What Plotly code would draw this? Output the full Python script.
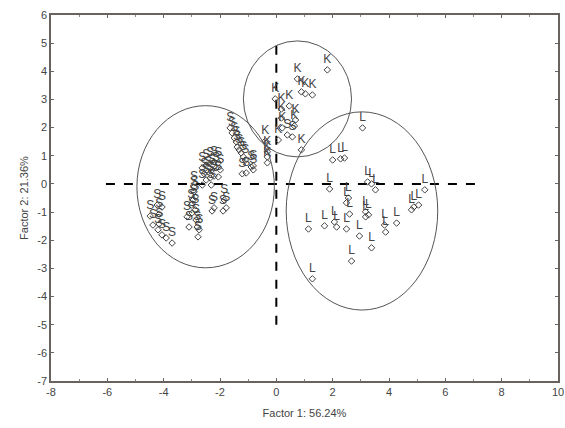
import plotly.graph_objects as go

# ---- data (Factor 1, Factor 2 scores) ----
s_x = [-4.48, -4.23, -4.06, -4.16, -4.20, -4.06, -4.16, -3.91, -3.70, -4.38,
       -2.92, -2.92, -2.88, -3.17, -2.99, -2.85, -2.81, -2.74, -3.10, -2.78, -3.02, -2.95, -2.88,
       -2.63, -2.49, -2.35, -2.21, -2.06, -2.56, -2.42, -2.28, -2.14, -1.99, -2.49, -2.35, -2.21, -2.06, -2.63, -2.31,
       -2.28, -1.89, -1.85, -1.78, -2.21,
       -1.64, -1.57, -1.49, -1.42, -1.39, -1.32, -1.25, -1.17, -1.10, -1.21, -1.07, -0.89, -0.82, -0.82,
       0.39, 0.57]
s_y = [-1.14, -0.75, -0.82, -1.07, -1.63, -1.81, -1.42, -1.92, -2.10, -1.46,
       -0.11, -0.28, -0.46, -1.17, -1.03, -1.28, -1.53, -1.63, -1.53, -1.88, -0.75, -0.57, -0.92,
       0.57, 0.67, 0.75, 0.78, 0.75, 0.36, 0.43, 0.50, 0.57, 0.50, 0.14, 0.21, 0.28, 0.25, -0.04, -0.04,
       -0.96, -0.96, -0.57, -0.85, -0.85,
       1.99, 1.81, 1.63, 1.49, 1.31, 1.21, 1.10, 0.96, 0.85, 0.36, 0.39, 0.60, 0.64, 0.50,
       1.74, 1.67]

k_x = [1.81, 0.75, 0.89, 1.03, 1.28, -0.04, 0.46, 0.18, 0.68, 0.64, 0.18, 0.07, -0.39, 0.89, 0.21,
       -0.32, -0.32, -0.32]
k_y = [4.05, 3.73, 3.27, 3.20, 3.16, 3.02, 2.77, 2.66, 2.27, 2.06, 2.34, 1.56, 1.53, 1.21, 1.99,
       1.14, 0.96, 0.75]

l_x = [3.06, 2.00, 2.28, 2.42, 1.89, 3.24, 3.38, 3.52, 2.56, 2.49, 2.60, 3.17, 3.27, 3.17,
       1.14, 1.71, 2.06, 2.14, 2.49, 2.95, 3.38, 3.84, 3.88, 4.27, 4.80, 4.88, 5.05, 5.27, 2.67, 1.28]
l_y = [1.99, 0.85, 0.89, 0.92, -0.18, 0.07, 0.00, -0.21, -0.50, -0.67, -1.07, -0.99, -1.10, -1.17,
       -1.60, -1.49, -1.35, -1.53, -1.60, -1.85, -2.27, -1.46, -1.71, -1.39, -0.92, -0.82, -0.75, -0.21, -2.74, -3.37]

# group ellipses
ell_cx = [-2.51, 0.75, 3.04]
ell_cy = [-0.10, 3.02, -0.96]
ell_rx = [2.44, 1.92, 2.69]
ell_ry = [2.88, 2.06, 3.52]

# dashed reference axes
h_line_x = [-6.05, 7.3]
h_line_y = [0, 0]
v_line_x = [0, 0]
v_line_y = [-5.0, 5.0]

x_ticks = [-8, -6, -4, -2, 0, 2, 4, 6, 8, 10]
y_ticks = list(range(-7, 7))

TXT = "rgb(68,68,68)"
fig = go.Figure()

fig.add_trace(go.Scatter(x=h_line_x, y=h_line_y, mode="lines",
                         line=dict(color="black", width=2, dash="dash"), hoverinfo="skip"))
fig.add_trace(go.Scatter(x=v_line_x, y=v_line_y, mode="lines",
                         line=dict(color="black", width=2, dash="dash"), hoverinfo="skip"))

for xs, ys, lab in [(s_x, s_y, "S"), (k_x, k_y, "K"), (l_x, l_y, "L")]:
    fig.add_trace(go.Scatter(
        x=xs, y=ys, mode="markers+text", text=[lab] * len(xs),
        textposition="top center",
        textfont=dict(family="Liberation Sans, Arial", size=12, color=TXT),
        marker=dict(symbol="diamond-open", size=5, color=TXT, line=dict(width=1, color=TXT)),
    ))

for cx, cy, rx, ry in zip(ell_cx, ell_cy, ell_rx, ell_ry):
    fig.add_shape(type="circle", xref="x", yref="y",
                  x0=cx - rx, x1=cx + rx, y0=cy - ry, y1=cy + ry,
                  line=dict(color="#555", width=1))

axis_font = dict(family="Liberation Sans, Arial", size=11, color="#444")
fig.update_xaxes(range=[-8, 10], tickvals=x_ticks, ticktext=[str(v) for v in x_ticks],
                 showgrid=False, zeroline=False,
                 showline=True, linecolor="#6a625c", linewidth=1.5, mirror="ticks",
                 ticks="inside", ticklen=3, tickcolor="#666",
                 minor=dict(dtick=1, ticks="inside", ticklen=2, tickcolor="#888"),
                 tickfont=axis_font,
                 title=dict(text="Factor 1: 56.24%", font=axis_font, standoff=12))
fig.update_yaxes(range=[-7, 6], tickvals=y_ticks, ticktext=[str(v) for v in y_ticks],
                 showgrid=False, zeroline=False,
                 showline=True, linecolor="#6a625c", linewidth=1.5, mirror="ticks",
                 ticks="inside", ticklen=3, tickcolor="#666",
                 tickfont=axis_font,
                 title=dict(text="Factor 2: 21.36%", font=axis_font, standoff=6))

fig.update_layout(template="none", width=565, height=428, showlegend=False,
                  paper_bgcolor="white", plot_bgcolor="white",
                  margin=dict(l=51, r=7, t=15, b=47))

fig.write_html("out.html")
